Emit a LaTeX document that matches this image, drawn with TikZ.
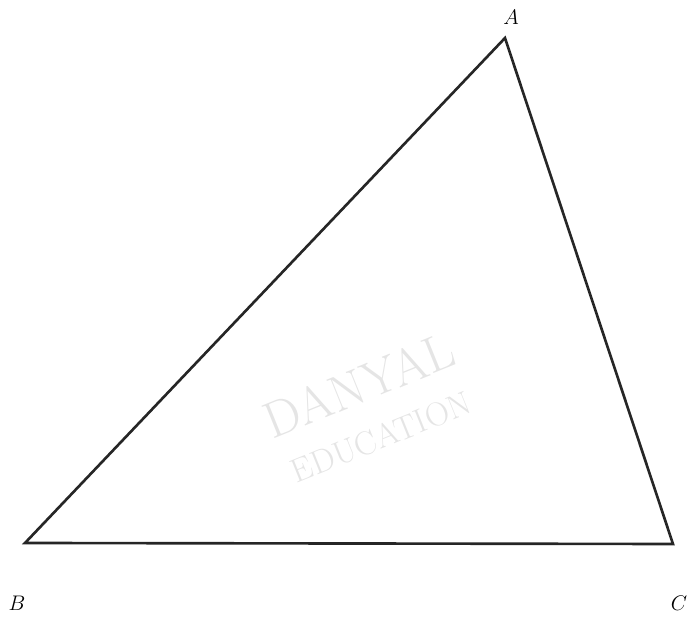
\documentclass[tikz,border=0pt]{standalone}
\usepackage{amsmath,amssymb}
\usepackage{xcolor}
\usepackage{tikz}
\usetikzlibrary{positioning,calc}

\begin{document}
\begin{tikzpicture}[x=0.02cm, y=-0.02cm]
  \tikzset{
    side/.style={draw=black!85,line width=1.5pt,line join=miter},
    vlab/.style={font=\fontsize{12.5}{14}\selectfont,inner sep=1pt},
    wmark/.style={color=black!10,rotate=22,inner sep=0pt}
  }
  \useasboundingbox (0,0) rectangle (687,617);

  % Watermark
  \node[wmark,font=\fontsize{29}{31}\selectfont] (wm1) at (359,385) {DANYAL};
  \node[wmark,font=\fontsize{19}{21}\selectfont] (wm2) at (381,437) {EDUCATION};

  % Vertices
  \coordinate (A) at (505,38);
  \coordinate (B) at (25,543);
  \coordinate (C) at (673,544);
  \draw[side] (A) -- (B) -- (C) -- cycle;

  % Labels
  \node[vlab] (la) at (511,17)  {$A$};
  \node[vlab] (lb) at (17,603)  {$B$};
  \node[vlab] (lc) at (679,603) {$C$};
\end{tikzpicture}
\end{document}
